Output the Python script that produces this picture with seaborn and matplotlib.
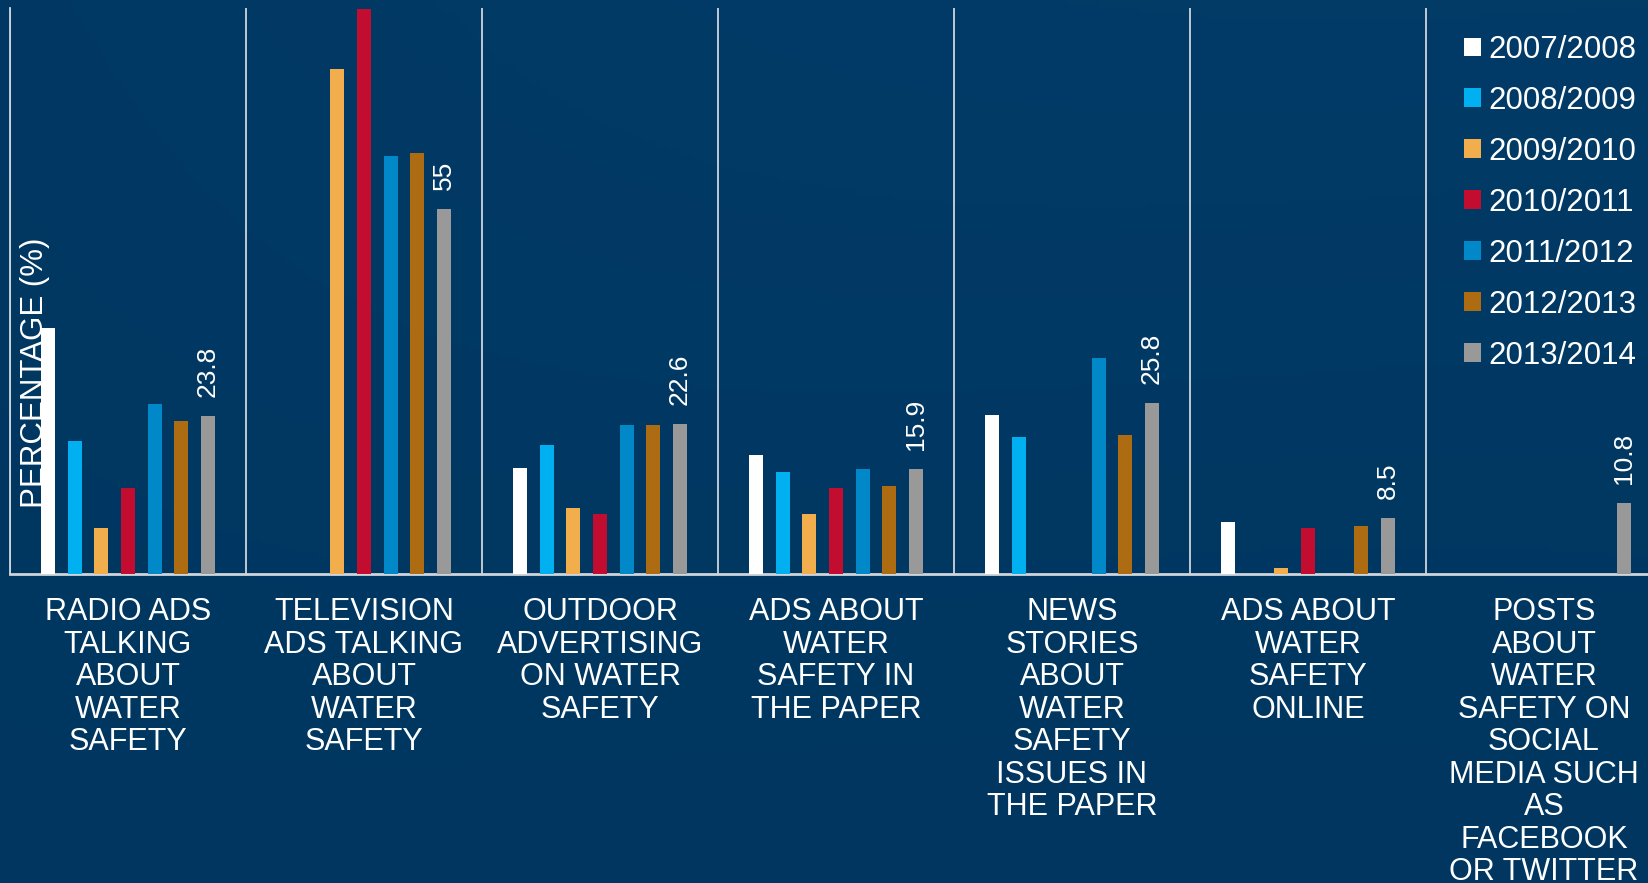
import numpy as np
import pandas as pd
import matplotlib
matplotlib.use("Agg")
import matplotlib.pyplot as plt
import matplotlib.colors as mcolors
import seaborn as sns
from matplotlib.patches import Patch

nan = np.nan

categories = [
    "RADIO ADS\nTALKING\nABOUT\nWATER\nSAFETY",
    "TELEVISION\nADS TALKING\nABOUT\nWATER\nSAFETY",
    "OUTDOOR\nADVERTISING\nON WATER\nSAFETY",
    "ADS ABOUT\nWATER\nSAFETY IN\nTHE PAPER",
    "NEWS\nSTORIES\nABOUT\nWATER\nSAFETY\nISSUES IN\nTHE PAPER",
    "ADS ABOUT\nWATER\nSAFETY\nONLINE",
    "POSTS\nABOUT\nWATER\nSAFETY ON\nSOCIAL\nMEDIA SUCH\nAS\nFACEBOOK\nOR TWITTER",
]
years = ["2007/2008", "2008/2009", "2009/2010", "2010/2011",
         "2011/2012", "2012/2013", "2013/2014"]

v_2007_2008 = [37.0, nan, 16.0, 18.0, 24.0, 7.9, nan]
v_2008_2009 = [20.1, nan, 19.4, 15.4, 20.7, nan, nan]
v_2009_2010 = [7.0, 76.0, 10.0, 9.0, nan, 0.9, nan]
v_2010_2011 = [13.0, 85.1, 9.0, 13.0, nan, 7.0, nan]
v_2011_2012 = [25.6, 63.0, 22.4, 15.8, 32.6, nan, nan]
v_2012_2013 = [23.0, 63.4, 22.4, 13.3, 20.9, 7.3, nan]
v_2013_2014 = [23.8, 55.0, 22.6, 15.9, 25.8, 8.5, 10.8]

colors = ["#FFFFFF", "#00B0F0", "#F2AE4C", "#C20C30", "#0088C8", "#AD6C11", "#999999"]

series = [v_2007_2008, v_2008_2009, v_2009_2010, v_2010_2011,
          v_2011_2012, v_2012_2013, v_2013_2014]
rows = []
for yr, vals in zip(years, series):
    for cat, v in zip(categories, vals):
        rows.append({"category": cat, "year": yr, "value": v})
df = pd.DataFrame(rows)

sns.set_style("white")
plt.rcParams["font.family"] = ["Liberation Sans", "DejaVu Sans"]

W, H = 1648, 883
fig = plt.figure(figsize=(W / 100, H / 100), dpi=100)

# background gradient
bg = fig.add_axes([0, 0, 1, 1], zorder=-10)
ny, nx = 200, 400
yy, xx = np.mgrid[0:1:ny * 1j, 0:1:nx * 1j]
c_dark = np.array(mcolors.to_rgb("#00335A"))
c_mid = np.array(mcolors.to_rgb("#003863"))
c_light = np.array(mcolors.to_rgb("#033F6C"))
t = np.clip(0.55 * (1 - yy) + 0.35 * xx + 0.15 * np.sin(3 * xx + 2 * yy), 0, 1)
img = c_dark[None, None, :] * (1 - t[..., None]) + c_light[None, None, :] * t[..., None]
img = 0.5 * img + 0.5 * c_mid[None, None, :]
bg.imshow(img, aspect="auto", extent=[0, 1, 0, 1], origin="upper")
bg.set_axis_off()

ax_left = 10 / W
ax_right = 1662 / W
ax_bottom = (H - 574.3) / H
ax_top = (H - 8) / H
ax = fig.add_axes([ax_left, ax_bottom, ax_right - ax_left, ax_top - ax_bottom])
ax.set_facecolor("none")

sns.barplot(data=df, x="category", y="value", hue="year", hue_order=years,
            order=categories, palette=colors, saturation=1, errorbar=None,
            width=0.79, gap=0.475, linewidth=0, ax=ax, legend=False, zorder=3)

ax.set_xlim(-0.5, len(categories) - 0.5)
ax.set_ylim(0, 85.2)
ax.set_yticks([])
ax.set_xlabel("")

# group separators
ax.set_xticks(np.arange(len(categories) + 1) - 0.5, minor=True)
ax.grid(False)
ax.grid(which="minor", axis="x", color="#D0D5DC", linewidth=1.3, zorder=1)
ax.tick_params(axis="x", which="both", length=0, pad=16.5,
               labelsize=22, labelcolor="white")
for lab in ax.get_xticklabels():
    lab.set_linespacing(1.11)
    lab.set_ha("center")

for s in ["top", "right"]:
    ax.spines[s].set_visible(False)
ax.spines["left"].set_color("#D0D5DC")
ax.spines["left"].set_linewidth(1.3)
ax.spines["bottom"].set_color("#D0D5DC")
ax.spines["bottom"].set_linewidth(2)

ax.set_ylabel("PERCENTAGE (%)", color="white", fontsize=22.5)
ax.yaxis.set_label_coords(0.0242, 0.3555)

# value labels on the last series
last = ax.containers[-1]
ax.bar_label(last, labels=[f"{v:g}" for v in v_2013_2014], rotation=90,
             padding=13.5, color="white", fontsize=19)

# legend
handles = [Patch(facecolor=c, edgecolor="none") for c in colors]
leg = fig.legend(handles, years, loc="upper left",
                 bbox_to_anchor=(1464 / W, 1 - 35 / H),
                 bbox_transform=fig.transFigure, frameon=False,
                 fontsize=22.5, handlelength=0.55, handleheight=0.55,
                 handletextpad=0.22, labelspacing=0.67, borderpad=0,
                 borderaxespad=0)
for txt in leg.get_texts():
    txt.set_color("white")

fig.savefig("out.png", dpi=100)
